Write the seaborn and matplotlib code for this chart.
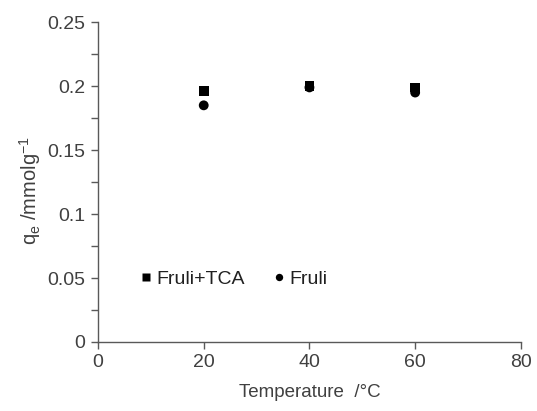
import matplotlib
matplotlib.use("Agg")
import matplotlib.pyplot as plt
from matplotlib.ticker import MultipleLocator
import seaborn as sns
import pandas as pd

# data
temperature = [20, 40, 60]
q_fruli_tca = [0.196, 0.200, 0.199]
q_fruli = [0.185, 0.199, 0.195]

df = pd.DataFrame({
    "Temperature": temperature * 2,
    "qe": q_fruli_tca + q_fruli,
    "Sample": ["Fruli+TCA"] * 3 + ["Fruli"] * 3,
})

sns.set_style("white")
plt.rcParams["font.family"] = ["Liberation Sans", "DejaVu Sans"]
plt.rcParams["mathtext.fontset"] = "custom"
plt.rcParams["mathtext.rm"] = "Liberation Sans"
plt.rcParams["mathtext.it"] = "Liberation Sans:italic"

fig = plt.figure(figsize=(5.37, 4.11), dpi=100)
ax = fig.add_axes([0.1825, 0.168, 0.7875, 0.778])

sns.scatterplot(data=df, x="Temperature", y="qe", style="Sample",
                markers={"Fruli+TCA": "s", "Fruli": "o"},
                color="black", s=50, edgecolor="none", ax=ax)

ax.set_xlim(0, 80)
ax.set_ylim(0, 0.25)
ax.xaxis.set_major_locator(MultipleLocator(20))
ax.set_yticks([0, 0.05, 0.1, 0.15, 0.2, 0.25])
ax.set_yticklabels(["0", "0.05", "0.1", "0.15", "0.2", "0.25"])
ax.yaxis.set_minor_locator(MultipleLocator(0.025))

gray = "#595959"
for side in ["top", "right"]:
    ax.spines[side].set_visible(False)
for side in ["left", "bottom"]:
    ax.spines[side].set_color(gray)
    ax.spines[side].set_linewidth(1.0)
ax.tick_params(axis="both", which="both", direction="out", color=gray,
               labelsize=14, labelcolor="#404040", width=1.0)
ax.tick_params(axis="both", which="major", length=5, left=True, bottom=True, pad=4)
ax.tick_params(axis="y", which="minor", length=5, left=True)

ax.set_xlabel("Temperature  /°C", fontsize=13.5, color="#404040", labelpad=9)
ax.set_ylabel(r"q$_\mathrm{e}$ /mmolg$^{-1}$", fontsize=14.5, color="#404040",
              va="center")
ax.yaxis.set_label_coords(-0.16, 0.475)

ax.legend(loc="center left", bbox_to_anchor=(0.095, 0.196), ncol=2, frameon=False,
          fontsize=14, handlelength=0.8, handletextpad=0.15, columnspacing=1.35,
          markerscale=0.75, labelcolor="#202020", borderaxespad=0, borderpad=0)

fig.savefig("out.png", dpi=100)
